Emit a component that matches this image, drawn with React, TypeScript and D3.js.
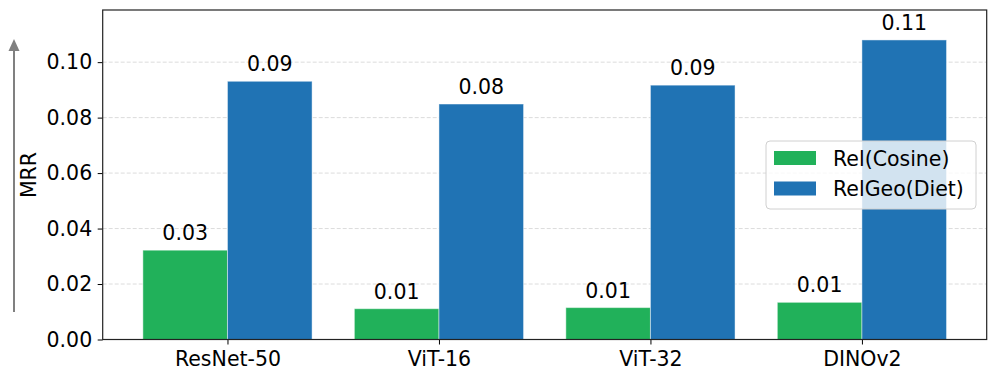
import { useEffect, useRef } from 'react';
import * as d3 from 'd3';

// Chart data
const models = ['ResNet-50', 'ViT-16', 'ViT-32', 'DINOv2'];
const relCosine = [0.0322, 0.0111, 0.0115, 0.0134];
const relGeoDiet = [0.0931, 0.0849, 0.0917, 0.108];
const seriesNames = ['Rel(Cosine)', 'RelGeo(Diet)'];
const yTicks = [0, 0.02, 0.04, 0.06, 0.08, 0.1];

const WIDTH = 997;
const HEIGHT = 380;
const FONT = 'DejaVu Sans, sans-serif';
const FONT_SIZE = '20.5px';
const GREEN = '#21b15a';
const BLUE = '#2073b4';

const App = () => {
  const chartRef = useRef<SVGSVGElement | null>(null);

  useEffect(() => {
    if (!chartRef.current) return;
    const svg = d3.select(chartRef.current);
    svg.selectAll('*').remove();

    const margin = { top: 10, right: 10.3, bottom: 40.5, left: 102.7 };
    const width = WIDTH - margin.left - margin.right;
    const height = HEIGHT - margin.top - margin.bottom;

    const g = svg.append('g').attr('transform', `translate(${margin.left},${margin.top})`);

    // matplotlib-like: bars span [i-0.4, i+0.4], 5% margins
    const xScale = d3.scaleLinear().domain([-0.59, 3.59]).range([0, width]);
    const yMax = d3.max(relGeoDiet)! * 1.1;
    const yScale = d3.scaleLinear().domain([0, yMax]).range([height, 0]);
    const barW = 0.4;

    // Gridlines
    g.append('g')
      .selectAll('line')
      .data(yTicks.slice(1))
      .enter()
      .append('line')
      .attr('x1', 0)
      .attr('x2', width)
      .attr('y1', d => yScale(d))
      .attr('y2', d => yScale(d))
      .attr('stroke', '#dcdcdc')
      .attr('stroke-width', 1)
      .attr('stroke-dasharray', '4,2');

    // Bars
    const series = [relCosine, relGeoDiet];
    const colors = [GREEN, BLUE];
    const offsets = [-barW, 0];

    series.forEach((vals, s) => {
      g.append('g')
        .selectAll('rect')
        .data(vals)
        .enter()
        .append('rect')
        .attr('x', (d, i) => xScale(i + offsets[s]))
        .attr('y', d => yScale(d))
        .attr('width', xScale(barW) - xScale(0))
        .attr('height', d => height - yScale(d))
        .attr('fill', colors[s])
        .attr('stroke', 'rgba(255,255,255,0.45)')
        .attr('stroke-width', 1);

      g.append('g')
        .selectAll('text')
        .data(vals)
        .enter()
        .append('text')
        .attr('x', (d, i) => xScale(i + offsets[s] + barW / 2))
        .attr('y', d => yScale(d) - 10)
        .attr('text-anchor', 'middle')
        .style('font-family', FONT)
        .style('font-size', FONT_SIZE)
        .style('fill', '#000')
        .text(d => d.toFixed(2));
    });

    // Y axis
    const yAxis = g.append('g')
      .call(d3.axisLeft(yScale).tickValues(yTicks).tickFormat(d3.format('.2f')).tickSize(5).tickPadding(5.5));
    yAxis.select('.domain').remove();
    yAxis.selectAll('text').style('font-family', FONT).style('font-size', FONT_SIZE).style('fill', '#000');
    yAxis.selectAll('.tick line').attr('stroke', '#000');

    // X axis
    const xAxis = g.append('g')
      .attr('transform', `translate(0,${height})`)
      .call(d3.axisBottom(xScale).tickValues(models.map((m, i) => i)).tickFormat((d, i) => models[i]).tickSize(5).tickPadding(7));
    xAxis.select('.domain').remove();
    xAxis.selectAll('text').style('font-family', FONT).style('font-size', FONT_SIZE).style('fill', '#000');
    xAxis.selectAll('.tick line').attr('stroke', '#000');

    // Frame
    g.append('rect')
      .attr('width', width)
      .attr('height', height)
      .attr('fill', 'none')
      .attr('stroke', '#222')
      .attr('stroke-width', 1.2);

    // Legend
    const legend = svg.append('g').attr('transform', 'translate(766,141)');
    legend.append('rect')
      .attr('width', 210)
      .attr('height', 68)
      .attr('rx', 4)
      .attr('fill', 'rgba(255,255,255,0.8)')
      .attr('stroke', '#d0d0d0')
      .attr('stroke-width', 1);
    seriesNames.forEach((name, i) => {
      legend.append('rect')
        .attr('x', 8)
        .attr('y', 10 + i * 30.5)
        .attr('width', 42)
        .attr('height', 14)
        .attr('fill', colors[i]);
      legend.append('text')
        .attr('x', 67)
        .attr('y', 24.5 + i * 30.5)
        .style('font-family', FONT)
        .style('font-size', FONT_SIZE)
        .style('fill', '#000')
        .text(name);
    });

    // Y label and arrow
    svg.append('text')
      .attr('transform', 'translate(36,175) rotate(-90)')
      .attr('text-anchor', 'middle')
      .style('font-family', FONT)
      .style('font-size', FONT_SIZE)
      .style('fill', '#000')
      .text('MRR');

    svg.append('line')
      .attr('x1', 14)
      .attr('x2', 14)
      .attr('y1', 312)
      .attr('y2', 50)
      .attr('stroke', '#808080')
      .attr('stroke-width', 2);
    svg.append('path')
      .attr('d', d3.line()([[8.5, 51], [14, 39], [19.5, 51]]) + 'Z')
      .attr('fill', '#808080');
  }, []);

  return (
    <svg
      ref={chartRef}
      width={WIDTH}
      height={HEIGHT}
      style={{ position: 'absolute', left: 0, top: 0, background: '#fff' }}
    />
  );
};

export default App;
